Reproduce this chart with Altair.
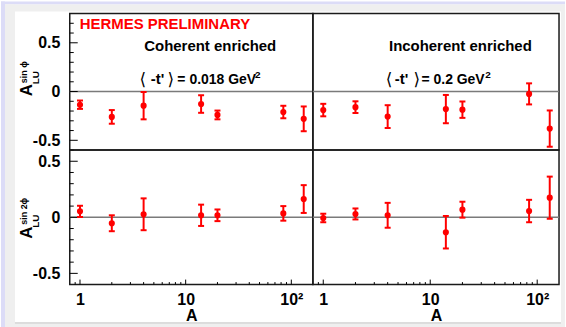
import altair as alt
import pandas as pd

# ---- data ----
A_vals = [1, 2, 4, 14, 20, 84, 131]

coh_sin1 = [-0.135, -0.26, -0.145, -0.128, -0.24, -0.21, -0.28]
coh_sin1_err = [0.043, 0.07, 0.14, 0.09, 0.045, 0.064, 0.127]
inc_sin1 = [-0.19, -0.16, -0.257, -0.18, -0.186, -0.024, -0.38]
inc_sin1_err = [0.064, 0.06, 0.117, 0.145, 0.084, 0.108, 0.186]

coh_sin2 = [0.053, -0.053, 0.027, 0.018, 0.018, 0.035, 0.163]
coh_sin2_err = [0.05, 0.071, 0.142, 0.095, 0.052, 0.065, 0.124]
inc_sin2 = [-0.006, 0.03, 0.018, -0.133, 0.068, 0.056, 0.175]
inc_sin2_err = [0.038, 0.049, 0.111, 0.145, 0.071, 0.1, 0.188]

x_domain = [0.8, 160]
y_top_domain = [-0.6, 0.8]
y_bot_domain = [-0.6, 0.6]

y_major = [-0.5, 0, 0.5]
y_minor_top = [-0.6, -0.4, -0.3, -0.2, -0.1, 0.1, 0.2, 0.3, 0.4, 0.6, 0.7]
y_minor_bot = [-0.4, -0.3, -0.2, -0.1, 0.1, 0.2, 0.3, 0.4]
x_major = [1, 10, 100]
x_minor = [0.9, 2, 3, 4, 5, 6, 7, 8, 9, 20, 30, 40, 50, 60, 70, 80, 90]

RED = "#ff0000"
FONT = "Liberation Sans"
LAV = "#dcdcf7"
GREY = "#efefef"

W_L, W_R = 244, 247
H_T, H_B = 137, 135


def text_layer(txt, x, y, size=15, color="black", align="center", angle=None,
               weight="bold", font=None):
    kw = dict(fontSize=size, fontWeight=weight, color=color, align=align,
              baseline="alphabetic", font=font or (FONT + ", DejaVu Sans"))
    if angle is not None:
        kw["angle"] = angle
    return alt.Chart(pd.DataFrame({"t": [txt]})).mark_text(**kw).encode(
        text="t:N", x=alt.value(x), y=alt.value(y))


def tprime_label(xs, value_txt, base=71):
    # <-t'> = value GeV^2, built from pieces placed at the given x offsets
    return [
        text_layer("\u27e8", xs[0], base + 1, size=17, align="left", weight="normal",
                   font="DejaVu Sans"),
        text_layer("-t'", xs[1], base, size=15, align="center"),
        text_layer("\u27e9", xs[2], base + 1, size=17, align="left", weight="normal",
                   font="DejaVu Sans"),
        text_layer("= " + value_txt + " GeV", xs[3], base, size=14, align="left"),
        text_layer("2", xs[4], base - 6, size=10, align="left"),
    ]


def deco_rect(color, x, x2, y, y2):
    return alt.Chart(pd.DataFrame({"k": [0]})).mark_rect(color=color).encode(
        x=alt.value(x), x2=alt.value(x2), y=alt.value(y), y2=alt.value(y2))


def panel(vals, errs, ydom, minor_y, w, h, show_y, show_x, extras):
    df = pd.DataFrame({
        "A": A_vals,
        "v": vals,
        "lo": [v - e for v, e in zip(vals, errs)],
        "hi": [v + e for v, e in zip(vals, errs)],
    })
    caps = pd.DataFrame({"A": A_vals * 2,
                         "c": df["lo"].tolist() + df["hi"].tolist()})
    xs = alt.Scale(type="log", domain=x_domain, nice=False)
    ys = alt.Scale(domain=ydom, nice=False, zero=False)
    if show_y:
        yaxis = alt.Axis(values=y_major, ticks=False, tickSize=0, domain=False, grid=False,
                         labelFontSize=16, labelFontWeight="bold", labelColor="black",
                         labelPadding=10, title=None, zindex=1,
                         labelExpr="datum.value == 0 ? '0' : (datum.value > 0 ? '0.5' : '-0.5')")
    else:
        yaxis = None
    if show_x:
        xaxis = alt.Axis(values=x_major, ticks=False, tickSize=0, domain=False, grid=False,
                         labelFontSize=16, labelFontWeight="bold", labelColor="black",
                         labelPadding=7, labelFlush=False, title="A", zindex=1,
                         titleFontSize=16, titleFontWeight="bold", titleColor="black",
                         titlePadding=0,
                         labelExpr="datum.value == 100 ? '10\u00b2' : (datum.value == 10 ? '10' : '1')")
    else:
        xaxis = None

    def X(f):
        return alt.X(f, type="quantitative", scale=xs, axis=xaxis)

    def Y(f):
        return alt.Y(f, type="quantitative", scale=ys, axis=yaxis)

    layers = list(extras["bg"])
    layers.append(alt.Chart(pd.DataFrame({"z": [0]})).mark_rule(
        color="#7a7a7a", strokeWidth=1.5).encode(y=Y("z")))
    if show_y:
        layers.append(alt.Chart(pd.DataFrame({"tv": y_major})).mark_rule(
            color="black", strokeWidth=1).encode(y=Y("tv"), x=alt.value(0), x2=alt.value(8)))
        layers.append(alt.Chart(pd.DataFrame({"tv": minor_y})).mark_rule(
            color="black", strokeWidth=1).encode(y=Y("tv"), x=alt.value(0), x2=alt.value(4)))
    if show_x:
        layers.append(alt.Chart(pd.DataFrame({"tv": x_major})).mark_rule(
            color="black", strokeWidth=1).encode(x=X("tv"), y=alt.value(h), y2=alt.value(h - 5)))
        layers.append(alt.Chart(pd.DataFrame({"tv": x_minor})).mark_rule(
            color="black", strokeWidth=1).encode(x=X("tv"), y=alt.value(h), y2=alt.value(h - 2.5)))
    layers.append(alt.Chart(df).mark_rule(color=RED, strokeWidth=2).encode(
        x=X("A"), y=Y("lo"), y2="hi:Q"))
    layers.append(alt.Chart(caps).mark_tick(color=RED, orient="horizontal", size=6,
                                            thickness=2, opacity=1).encode(x=X("A"), y=Y("c")))
    layers.append(alt.Chart(df).mark_circle(color=RED, size=38, opacity=1).encode(
        x=X("A"), y=Y("v")))
    layers += extras["texts"]
    return alt.layer(*layers).properties(width=w, height=h)


# decorative page border strips (relative to the first panel's origin at 69,12);
# they stay outside the panels and together span the full 566x327 page
bg_layers = [
    deco_rect(LAV, -69, -65, -12, 315),      # left lavender strip
    deco_rect(LAV, -69, 497, -12, -9),       # top lavender strip
    deco_rect(GREY, -65, -55, -9, 315),      # left grey band
    deco_rect(GREY, -65, 497, -9, -2),       # top grey band
    deco_rect(GREY, 493, 497, -9, 315),      # right grey band
    deco_rect(GREY, -65, 497, 310, 315),     # bottom grey band
    alt.Chart(pd.DataFrame({"k": [0]})).mark_rule(color="#c8c8c8", strokeWidth=1).encode(
        x=alt.value(-55), x2=alt.value(493), y=alt.value(310.5)),
]

tl = panel(coh_sin1, coh_sin1_err, y_top_domain, y_minor_top, W_L, H_T, True, False, {
    "bg": bg_layers,
    "texts": [
        text_layer("HERMES PRELIMINARY", 10, 16, size=15, color=RED, align="left"),
        text_layer("Coherent enriched", 141, 38),
        *tprime_label([70, 88, 98, 108, 186], "0.018"),
        text_layer("A", -38, 83, size=17, align="left", angle=270),
        text_layer("LU", -31, 71, size=10, align="left", angle=270),
        text_layer("sin \u03d5", -43, 70, size=9, align="left", angle=270),
    ],
})
tr = panel(inc_sin1, inc_sin1_err, y_top_domain, y_minor_top, W_R, H_T, False, False, {
    "bg": [],
    "texts": [
        text_layer("Incoherent enriched", 148, 38),
        *tprime_label([73, 89, 101, 109, 173], "0.2"),
    ],
})
bl = panel(coh_sin2, coh_sin2_err, y_bot_domain, y_minor_bot, W_L, H_B, True, True, {
    "bg": [],
    "texts": [
        text_layer("A", -38, 89, size=17, align="left", angle=270),
        text_layer("LU", -31, 78, size=10, align="left", angle=270),
        text_layer("sin 2\u03d5", -43, 75, size=9, align="left", angle=270),
    ],
})
br = panel(inc_sin2, inc_sin2_err, y_bot_domain, y_minor_bot, W_R, H_B, False, True, {
    "bg": [],
    "texts": [],
})

chart = alt.concat(tl, tr, bl, br, columns=2, spacing=0, bounds="flush", align="each").properties(
    padding=0, background="white"
).configure(font=FONT).configure_view(
    stroke="#1a1a1a", strokeWidth=1.5
).configure_axis(zindex=1)

chart.save("out.html", embed_options={"renderer": "svg", "actions": False})
